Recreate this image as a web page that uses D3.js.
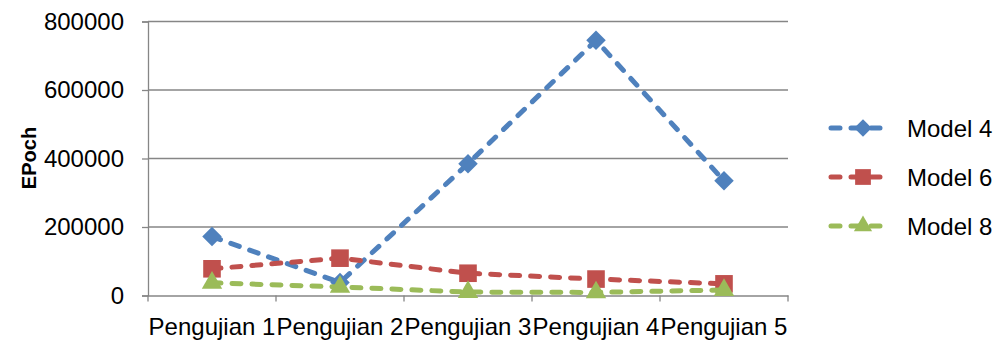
<!DOCTYPE html>
<html><head><meta charset="utf-8">
<script src="https://cdn.jsdelivr.net/npm/d3@7"></script>
<style>body{margin:0;background:#fff}svg{display:block}text{font-family:"Liberation Sans",Arial,sans-serif}</style>
</head><body><svg id="c" width="995" height="342"></svg>
<script>
const categories = ["Pengujian 1","Pengujian 2","Pengujian 3","Pengujian 4","Pengujian 5"];
const seriesNames = ["Model 4","Model 6","Model 8"];
const model4 = [172000, 38000, 385000, 745000, 335000];
const model6 = [78000, 109000, 65000, 48000, 34000];
const model8 = [37000, 25000, 10000, 9000, 16000];
const yTicks = [0, 200000, 400000, 600000, 800000];
const colors = ["#4F81BD","#C0504D","#9BBB59"];
const markers = [d3.symbolSquare, d3.symbolSquare, d3.symbolTriangle];
const markerRot = [45, 0, 0];
const markerSizes = [190, 310, 180];

const svg = d3.select("#c");
const L = 148, R = 788, T = 21.5, B = 295.5;
const x = d3.scaleBand().domain(categories).range([L, R]);
const y = d3.scaleLinear().domain([0, 800000]).range([B, T]);
const grid = "#868686";

// gridlines
svg.append("g").selectAll("line").data(yTicks.filter(d=>d>0)).join("line")
  .attr("x1", L).attr("x2", R).attr("y1", d=>y(d)).attr("y2", d=>y(d))
  .attr("stroke", grid).attr("stroke-width", 1.3);

// y axis
const ya = svg.append("g").attr("transform", `translate(${L},0)`)
  .call(d3.axisLeft(y).tickValues(yTicks).tickSize(6).tickPadding(18).tickFormat(d3.format("d")));
ya.select(".domain").attr("stroke", grid).attr("stroke-width", 1.3);
ya.selectAll(".tick line").attr("stroke", grid).attr("stroke-width", 1.3);
ya.selectAll("text").attr("font-size", 24).attr("fill", "#000").attr("font-family", "Liberation Sans, Arial, sans-serif");

// x axis
const xa = svg.append("g").attr("transform", `translate(0,${B})`)
  .call(d3.axisBottom(x).tickSize(0).tickPadding(0));
xa.select(".domain").attr("stroke", grid).attr("stroke-width", 1.3);
xa.selectAll("text").attr("font-size", 24).attr("fill", "#000").attr("dy", null)
  .attr("y", 335 - B).attr("font-family", "Liberation Sans, Arial, sans-serif");
const bounds = categories.map(c => x(c)).concat([R]);
svg.append("g").selectAll("line").data(bounds).join("line")
  .attr("x1", d=>d).attr("x2", d=>d).attr("y1", B).attr("y2", B+6)
  .attr("stroke", grid).attr("stroke-width", 1.3);

// y title
svg.append("text").attr("transform", `translate(36,158) rotate(-90)`)
  .attr("text-anchor", "middle").attr("font-size", 20).attr("font-weight", "bold").text("EPoch");

const data = [model4, model6, model8];
const cx = c => x(c) + x.bandwidth()/2;
const line = d3.line().x((d,i)=>cx(categories[i])).y(d=>y(d));
data.forEach((vals, s) => {
  svg.append("path").datum(vals).attr("d", line).attr("fill", "none")
    .attr("stroke", colors[s]).attr("stroke-width", 5).attr("stroke-dasharray", "9,11")
    .attr("stroke-linecap", "round");
  svg.append("g").selectAll("path").data(vals).join("path")
    .attr("d", d3.symbol(markers[s], markerSizes[s]))
    .attr("transform", (d,i)=>`translate(${cx(categories[i])},${y(d)}) rotate(${markerRot[s]})`)
    .attr("fill", colors[s]);
});

// legend
const lg = svg.append("g");
seriesNames.forEach((n, s) => {
  const ly = 128 + s*49;
  lg.append("line").attr("x1", 831).attr("x2", 888).attr("y1", ly).attr("y2", ly)
    .attr("stroke", colors[s]).attr("stroke-width", 5).attr("stroke-dasharray", "9,11")
    .attr("stroke-linecap", "round");
  lg.append("path").attr("d", d3.symbol(markers[s], markerSizes[s]*0.8)())
    .attr("transform", `translate(863,${ly}) rotate(${markerRot[s]})`).attr("fill", colors[s]);
  lg.append("text").attr("x", 907).attr("y", ly).attr("dy", "0.36em")
    .attr("font-size", 24).text(n);
});
</script></body></html>
